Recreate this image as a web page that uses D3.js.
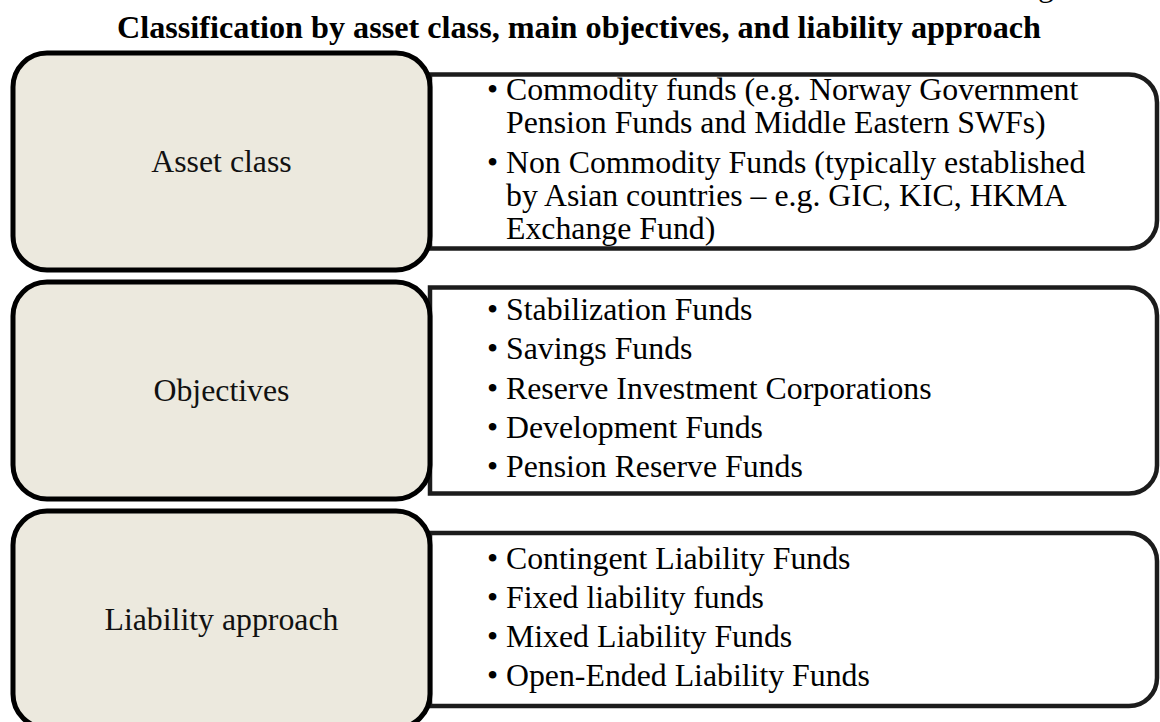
<!DOCTYPE html>
<html>
<head>
<meta charset="utf-8">
<script src="https://cdn.jsdelivr.net/npm/d3@7"></script>
<style>
  body { margin: 0; background: #ffffff; }
</style>
</head>
<body>
<div id="contenedor"></div>
<script>
// DATOS
const titulo = "Classification by asset class, main objectives, and liability approach";
const categorias = ["Asset class", "Objectives", "Liability approach"];
const itemsActivos = [
  ["Commodity funds (e.g. Norway Government", "Pension Funds and Middle Eastern SWFs)"],
  ["Non Commodity Funds (typically established", "by Asian countries \u2013 e.g. GIC, KIC, HKMA", "Exchange Fund)"]
];
const itemsObjetivos = [
  ["Stabilization Funds"],
  ["Savings Funds"],
  ["Reserve Investment Corporations"],
  ["Development Funds"],
  ["Pension Reserve Funds"]
];
const itemsPasivos = [
  ["Contingent Liability Funds"],
  ["Fixed liability funds"],
  ["Mixed Liability Funds"],
  ["Open-Ended Liability Funds"]
];
const itemsPorCategoria = [itemsActivos, itemsObjetivos, itemsPasivos];

// MEDIDAS
const ancho = 1160, alto = 722;
const fuente = "'Liberation Serif', 'Times New Roman', serif";
const tamFuente = 31.8;
const izqX0 = 13, izqX1 = 430, radioIzq = 34;
const derX0 = 430, derX1 = 1157, radioDer = 28;
const altoCajaDer = [174, 206, 173]; // alto de cada caja blanca
const interlinea = 33, separacionItem = 6.25;
const vinetaX = 487, textoX = 506;

const $svg = d3.select("#contenedor")
  .append("svg")
  .attr("width", ancho)
  .attr("height", alto)
  .style("display", "block");

const y = d3.scaleBand()
  .domain(categorias)
  .range([53, 728])
  .paddingInner(0.0524);

// TITULO (Y RESTO DE LA LINEA ANTERIOR, CORTADA ARRIBA)
$svg.append("text")
  .attr("x", 1038)
  .attr("y", -4)
  .attr("font-family", fuente)
  .attr("font-size", tamFuente)
  .attr("fill", "#000")
  .text("g");

$svg.append("text")
  .attr("x", 579)
  .attr("y", 38)
  .attr("text-anchor", "middle")
  .attr("font-family", fuente)
  .attr("font-size", 32.2)
  .attr("font-weight", "bold")
  .attr("fill", "#000")
  .text(titulo);

// CAJAS BLANCAS (ESQUINAS DERECHAS REDONDEADAS)
const caminoCaja = (x0, y0, x1, y1, r) => {
  const p = d3.path();
  p.moveTo(x0, y0);
  p.lineTo(x1 - r, y0);
  p.arcTo(x1, y0, x1, y0 + r, r);
  p.lineTo(x1, y1 - r);
  p.arcTo(x1, y1, x1 - r, y1, r);
  p.lineTo(x0, y1);
  p.closePath();
  return p.toString();
};

const filas = $svg.selectAll("g.fila")
  .data(categorias)
  .join("g")
  .attr("class", "fila");

filas.append("path")
  .attr("d", (d, i) => {
    const centro = y(d) + y.bandwidth() / 2;
    const h = altoCajaDer[i];
    return caminoCaja(derX0, centro - h / 2, derX1, centro + h / 2, radioDer);
  })
  .attr("fill", "#ffffff")
  .attr("stroke", "#1c1c1c")
  .attr("stroke-width", 4.5);

// LINEAS DE TEXTO CON VIÑETA
filas.each(function (d, i) {
  const items = itemsPorCategoria[i];
  const lineas = [];
  let yActual = 0;
  items.forEach((item, k) => {
    if (k > 0) yActual += interlinea + separacionItem;
    item.forEach((linea, j) => {
      if (j > 0) yActual += interlinea;
      lineas.push({ texto: linea, vineta: j === 0, y: yActual });
    });
  });
  const centro = y(d) + y.bandwidth() / 2;
  const inicio = centro - yActual / 2 + 8;
  const g = d3.select(this);

  g.selectAll("text.vineta")
    .data(lineas.filter(l => l.vineta))
    .join("text")
    .attr("class", "vineta")
    .attr("x", vinetaX)
    .attr("y", l => inicio + l.y)
    .attr("font-family", fuente)
    .attr("font-size", tamFuente)
    .attr("fill", "#000")
    .text("\u2022");

  g.selectAll("text.linea")
    .data(lineas)
    .join("text")
    .attr("class", "linea")
    .attr("x", textoX)
    .attr("y", l => inicio + l.y)
    .attr("font-family", fuente)
    .attr("font-size", tamFuente)
    .attr("fill", "#000")
    .text(l => l.texto);
});

// CAJAS BEIGE DE LA IZQUIERDA (ENCIMA)
filas.append("rect")
  .attr("x", izqX0)
  .attr("y", d => y(d))
  .attr("width", izqX1 - izqX0)
  .attr("height", y.bandwidth())
  .attr("rx", radioIzq)
  .attr("ry", radioIzq)
  .attr("fill", "#ece9de")
  .attr("stroke", "#000")
  .attr("stroke-width", 5);

filas.append("text")
  .attr("x", (izqX0 + izqX1) / 2)
  .attr("y", d => y(d) + y.bandwidth() / 2 + 10.5)
  .attr("text-anchor", "middle")
  .attr("font-family", fuente)
  .attr("font-size", tamFuente)
  .attr("fill", "#111")
  .text(d => d);
</script>
</body>
</html>
